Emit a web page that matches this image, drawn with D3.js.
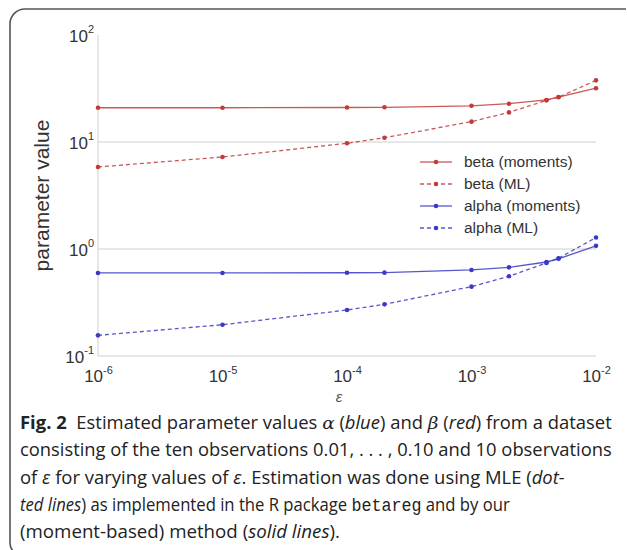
<!DOCTYPE html>
<html>
<head>
<meta charset="utf-8">
<script src="https://cdn.jsdelivr.net/npm/d3@7/dist/d3.min.js"></script>
<style>
  html, body { margin: 0; padding: 0; background: #fff; }
  svg { display: block; }
</style>
</head>
<body>
<svg id="fig" width="627" height="550"></svg>
<script>
// epsilon values at which the estimates were computed
const epsilons = [1e-6, 1e-5, 1e-4, 2e-4, 1e-3, 2e-3, 4e-3, 5e-3, 1e-2];

// estimated parameters
const betaMoments  = [20.9, 20.9, 21.0, 21.1, 21.8, 22.8, 24.7, 26.3, 31.8];
const betaML       = [5.84, 7.24, 9.72, 10.97, 15.5, 18.9, 24.5, 26.2, 37.7];
const alphaMoments = [0.597, 0.597, 0.600, 0.601, 0.637, 0.674, 0.756, 0.81, 1.07];
const alphaML      = [0.156, 0.196, 0.269, 0.304, 0.445, 0.556, 0.74, 0.82, 1.28];

const seriesNames = ["beta (moments)", "beta (ML)", "alpha (moments)", "alpha (ML)"];
const xTicks = [1e-6, 1e-5, 1e-4, 1e-3, 1e-2];
const yTicks = [0.1, 1, 10, 100];

const RED = "#c23b3b", BLUE = "#3a3ac6";
const series = [
  { name: seriesNames[0], values: betaMoments,  color: RED,  dash: null },
  { name: seriesNames[1], values: betaML,       color: RED,  dash: "4,3" },
  { name: seriesNames[2], values: alphaMoments, color: BLUE, dash: null },
  { name: seriesNames[3], values: alphaML,      color: BLUE, dash: "4,3" }
];

const svg = d3.select("#fig");

// frame around figure + caption
svg.append("path")
  .attr("d", "M626,9 L25,9 A15,15 0 0 0 10,24 L10,543 A12,12 0 0 0 22,555")
  .attr("fill", "none").attr("stroke", "#555").attr("stroke-width", 1.6);

const plotL = 98, plotR = 596, plotT = 35, plotB = 356;
const x = d3.scaleLog().domain([1e-6, 1e-2]).range([plotL, plotR]);
const y = d3.scaleLog().domain([0.1, 100]).range([plotB, plotT]);

const FONT = "'Liberation Sans', Arial, sans-serif";
const exp = v => Math.round(Math.log10(v));

// horizontal grid lines
svg.append("g").selectAll("line")
  .data(yTicks.filter(t => t > 0.1 && t < 100))
  .join("line")
  .attr("x1", plotL).attr("x2", plotR)
  .attr("y1", d => y(d)).attr("y2", d => y(d))
  .attr("stroke", "#cfcfcf").attr("stroke-width", 1);

// y axis
const yAxis = svg.append("g")
  .attr("transform", `translate(${plotL},0)`)
  .call(d3.axisLeft(y).tickValues(yTicks).tickSize(0).tickPadding(5).tickFormat(() => ""));
yAxis.select(".domain").attr("stroke", "#cfcfcf").attr("d", `M0,${plotT}V${plotB}`);
yAxis.selectAll(".tick text").each(function(d) {
  const t = d3.select(this).attr("font-family", FONT).attr("fill", "#333")
    .attr("font-size", 17).attr("dy", "0.36em").attr("x", -4);
  t.append("tspan").text("10");
  t.append("tspan").attr("font-size", 11).attr("dy", "-0.75em").text(exp(d));
});

// x axis
const xAxis = svg.append("g")
  .attr("transform", `translate(0,${plotB})`)
  .call(d3.axisBottom(x).tickValues(xTicks).tickSize(0).tickPadding(0).tickFormat(() => ""));
xAxis.select(".domain").attr("stroke", "#cfcfcf").attr("d", `M${plotL},0H${plotR}`);
xAxis.selectAll(".tick text").each(function(d) {
  const t = d3.select(this).attr("font-family", FONT).attr("fill", "#333")
    .attr("font-size", 17).attr("dy", null).attr("y", 26).attr("text-anchor", "middle");
  t.append("tspan").text("10");
  t.append("tspan").attr("font-size", 11).attr("dy", "-0.75em").text(exp(d));
});

// axis titles
svg.append("text")
  .attr("transform", `translate(49,${(plotT + plotB) / 2}) rotate(-90)`)
  .attr("text-anchor", "middle").attr("font-family", FONT)
  .attr("font-size", 21).attr("fill", "#333").text("parameter value");
svg.append("text")
  .attr("x", 339).attr("y", 402).attr("text-anchor", "middle")
  .attr("font-family", FONT).attr("font-style", "italic")
  .attr("font-size", 15).attr("fill", "#555").text("ε");

// series lines and markers
const line = d3.line().x((d, i) => x(epsilons[i])).y(d => y(d));
series.forEach(s => {
  svg.append("path").datum(s.values)
    .attr("d", line).attr("fill", "none")
    .attr("stroke", s.color).attr("stroke-width", 1.3).attr("stroke-opacity", 0.85)
    .attr("stroke-dasharray", s.dash);
  svg.append("g").selectAll("circle").data(s.values).join("circle")
    .attr("cx", (d, i) => x(epsilons[i])).attr("cy", d => y(d))
    .attr("r", 2.3).attr("fill", s.color);
});

// legend
const lg = svg.append("g");
series.forEach((s, i) => {
  const ry = 162 + i * 22;
  lg.append("line").attr("x1", 420).attr("x2", 452).attr("y1", ry).attr("y2", ry)
    .attr("stroke", s.color).attr("stroke-width", 1.3).attr("stroke-opacity", 0.85)
    .attr("stroke-dasharray", s.dash);
  lg.append("circle").attr("cx", 436).attr("cy", ry).attr("r", 2.3).attr("fill", s.color);
  lg.append("text").attr("x", 464).attr("y", ry).attr("dy", "0.35em")
    .attr("font-family", FONT).attr("font-size", 15.5).attr("fill", "#333").text(s.name);
});

// caption: each line is squeezed horizontally to its set width
const CAP = "'Open Sans', 'Noto Sans', sans-serif";
const capX = 20;
const capLines = [
  { w: 592, parts: [["Fig. 2", "b"], ["\u00a0 Estimated parameter values "], ["α", "m"], [" ("], ["blue", "i"], [") and "], ["β", "m"], [" ("], ["red", "i"], [") from a dataset"]] },
  { w: 592, parts: [["consisting of the ten observations 0.01, . . . , 0.10 and 10 observations"]] },
  { w: 545, parts: [["of "], ["ε", "i"], [" for varying values of "], ["ε", "i"], [". Estimation was done using MLE ("], ["dot-", "i"]] },
  { w: 490, parts: [["ted lines", "i"], [") as implemented in the R package "], ["betareg", "c"], [" and by our"]] },
  { w: 320, parts: [["(moment-based) method ("], ["solid lines", "i"], [")."]] }
];
capLines.forEach((ln, i) => {
  const g = svg.append("g");
  const t = g.append("text")
    .attr("x", 0).attr("y", 0)
    .attr("font-family", CAP).attr("font-size", 17.5).attr("fill", "#222");
  ln.parts.forEach(([txt, st]) => {
    const sp = t.append("tspan").text(txt);
    if (st === "b") sp.attr("font-weight", "bold");
    if (st === "i") sp.attr("font-style", "italic");
    if (st === "m") sp.attr("font-style", "italic").attr("font-family", "'DejaVu Serif', serif");
    if (st === "c") sp.attr("font-family", "'Liberation Mono', monospace");
  });
  const len = t.node().getComputedTextLength();
  const k = len > 0 ? ln.w / len : 1;
  g.attr("transform", `translate(${capX},${429 + i * 27.3}) scale(${k},1)`);
});
</script>
</body>
</html>
